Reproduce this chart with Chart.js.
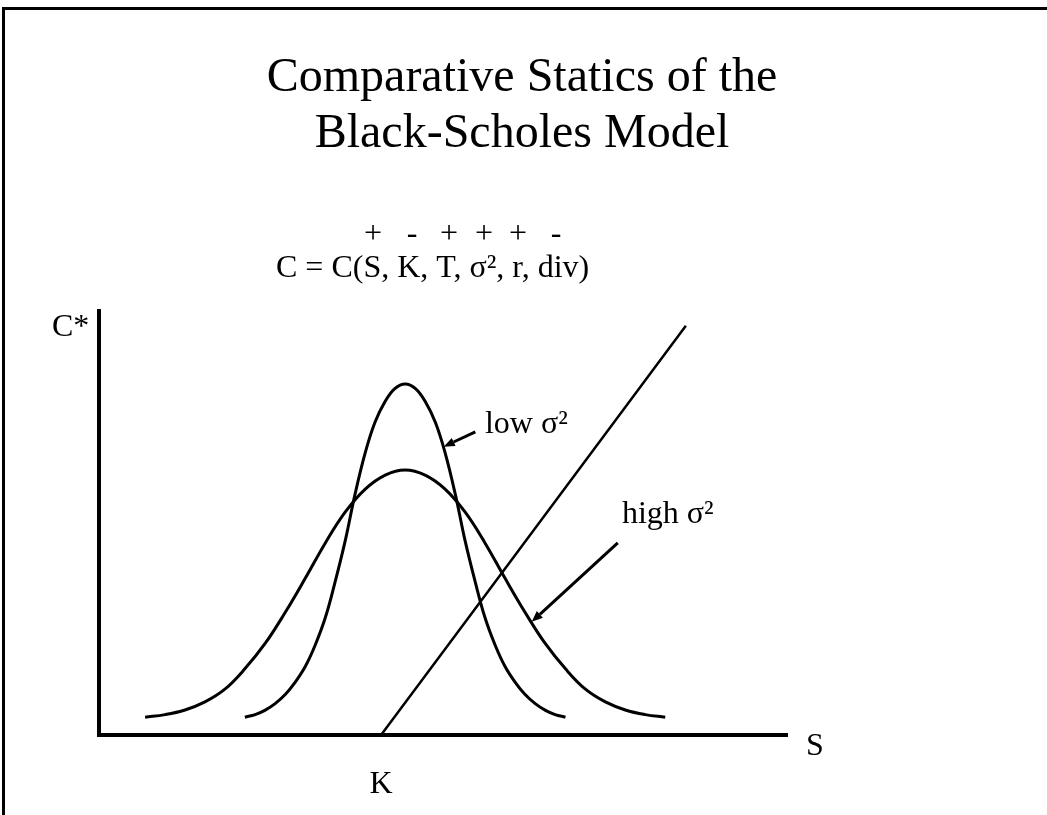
<!DOCTYPE html>
<html>
<head>
<meta charset="utf-8">
<script src="https://cdn.jsdelivr.net/npm/chart.js@4/dist/chart.umd.min.js"></script>
<style>
  html, body { margin: 0; padding: 0; background: #fff; }
  #wrap { position: relative; width: 1047px; height: 815px; overflow: hidden; }
  #frame { position: absolute; left: 2px; top: 7px; right: -10px; bottom: -10px;
           border-top: 3px solid #000; border-left: 3px solid #000; }
  canvas { position: absolute; left: 0; top: 0; }
</style>
</head>
<body>
<div id="wrap">
  <div id="frame"></div>
  <canvas id="bsChart" width="1047" height="815"></canvas>
</div>
<script>
// --- dane (S: 0..100, C*: 0..100) ---
const titleLines = ['Comparative Statics of the', 'Black-Scholes Model'];
const signs = ['+', '-', '+', '+', '+', '-'];
const formula = 'C = C(S, K, T, σ², r, div)';

const strikeK = 41;

const lowVolS = [21.2, 22.7, 24.1, 25.6, 27.1, 28.5, 30.0, 31.4, 32.9, 34.3, 35.8, 37.2, 38.7, 40.1, 41.6, 43.0,
                 44.5,
                 46.0, 47.4, 48.9, 50.3, 51.8, 53.2, 54.7, 56.1, 57.6, 59.0, 60.5, 61.9, 63.4, 64.9, 66.3, 67.8];
const lowVolC = [4.2, 4.8, 5.8, 7.4, 9.6, 12.4, 16.2, 21.1, 27.7, 36.0, 45.9, 56.7, 66.6, 73.7, 78.7, 81.7,
                 82.8,
                 81.7, 78.7, 73.7, 66.6, 56.7, 45.9, 36.0, 27.7, 21.1, 16.2, 12.4, 9.6, 7.4, 5.8, 4.8, 4.2];

const highVolS = [6.7, 9.6, 12.5, 15.4, 18.3, 21.2, 24.2, 27.1, 30.0, 32.9, 35.8, 38.7, 41.6,
                  44.5,
                  47.4, 50.3, 53.2, 56.1, 59.0, 61.9, 64.8, 67.8, 70.7, 73.6, 76.5, 79.4, 82.3];
const highVolC = [4.2, 4.8, 5.9, 7.8, 10.8, 15.6, 21.7, 29.0, 37.0, 45.3, 52.6, 58.0, 61.3,
                  62.5,
                  61.3, 58.0, 52.6, 45.3, 37.0, 29.0, 21.7, 15.6, 10.8, 7.8, 5.9, 4.8, 4.2];

const payoffS = [strikeK, 85.3];
const payoffC = [0, 96.5];

// etykiety ze strzałkami: [tekst, x tekstu, y tekstu, strzałka od (x,y), do (x,y)]
const callouts = [
    ['low σ²', 56.1, 71.2, 54.7, 71.5, 50.1, 68.0],
    ['high σ²', 76.0, 50.0, 75.4, 45.3, 62.9, 26.7]
];

const toPoints = (xs, ys) => xs.map((v, i) => ({ x: v, y: ys[i] }));

const SERIF = '"Liberation Serif", "Times New Roman", serif';

const slideText = {
    id: 'slideText',
    afterDraw(chart) {
        const { ctx, chartArea, scales: { x, y } } = chart;
        ctx.save();
        ctx.fillStyle = '#000';
        ctx.strokeStyle = '#000';
        ctx.textBaseline = 'alphabetic';

        // tytuł
        ctx.font = '48px ' + SERIF;
        ctx.textAlign = 'center';
        titleLines.forEach((t, i) => ctx.fillText(t, 522, 91 + i * 56));

        // znaki nad wzorem
        ctx.font = '32px ' + SERIF;
        const signX = [373, 412, 449, 484, 518, 556];
        signs.forEach((s, i) => ctx.fillText(s, signX[i], 243));

        ctx.textAlign = 'left';
        ctx.fillText(formula, 276, 277);

        // osie
        ctx.fillText('C*', chartArea.left - 47, chartArea.top + 25);
        ctx.textAlign = 'center';
        ctx.fillText('S', chartArea.right + 28, chartArea.bottom + 20);
        ctx.fillText('K', x.getPixelForValue(strikeK), chartArea.bottom + 58);

        // etykiety i strzałki
        ctx.textAlign = 'left';
        ctx.lineWidth = 3;
        callouts.forEach(([label, tx, ty, x0, y0, x1, y1]) => {
            ctx.fillText(label, x.getPixelForValue(tx), y.getPixelForValue(ty));
            const ax = x.getPixelForValue(x0), ay = y.getPixelForValue(y0);
            const bx = x.getPixelForValue(x1), by = y.getPixelForValue(y1);
            const ang = Math.atan2(by - ay, bx - ax);
            const len = 11, half = 4.5;
            const hx = bx - len * Math.cos(ang), hy = by - len * Math.sin(ang);
            ctx.beginPath();
            ctx.moveTo(ax, ay);
            ctx.lineTo(hx, hy);
            ctx.stroke();
            ctx.beginPath();
            ctx.moveTo(bx, by);
            ctx.lineTo(hx + half * Math.sin(ang), hy - half * Math.cos(ang));
            ctx.lineTo(hx - half * Math.sin(ang), hy + half * Math.cos(ang));
            ctx.closePath();
            ctx.fill();
        });
        ctx.restore();
    }
};

const curve = (label, pts, width) => ({
    label: label,
    data: pts,
    showLine: true,
    borderColor: '#000',
    borderWidth: width,
    pointRadius: 0,
    tension: 0.4,
    fill: false
});

const ctx = document.getElementById('bsChart').getContext('2d');
new Chart(ctx, {
    type: 'scatter',
    data: {
        datasets: [
            curve('low σ²', toPoints(lowVolS, lowVolC), 3),
            curve('high σ²', toPoints(highVolS, highVolC), 3),
            curve('payoff', toPoints(payoffS, payoffC), 2.5)
        ]
    },
    options: {
        responsive: false,
        animation: false,
        layout: { padding: { left: 99, right: 260, top: 311, bottom: 80 } },
        plugins: {
            legend: { display: false },
            title: { display: false },
            tooltip: { enabled: false }
        },
        scales: {
            x: {
                type: 'linear', min: 0, max: 100,
                grid: { display: false },
                ticks: { display: false },
                border: { display: true, color: '#000', width: 4 },
                afterFit: (s) => { s.height = 0; }
            },
            y: {
                type: 'linear', min: 0, max: 100,
                grid: { display: false },
                ticks: { display: false },
                border: { display: true, color: '#000', width: 4 },
                afterFit: (s) => { s.width = 0; }
            }
        }
    },
    plugins: [slideText]
});
</script>
</body>
</html>
